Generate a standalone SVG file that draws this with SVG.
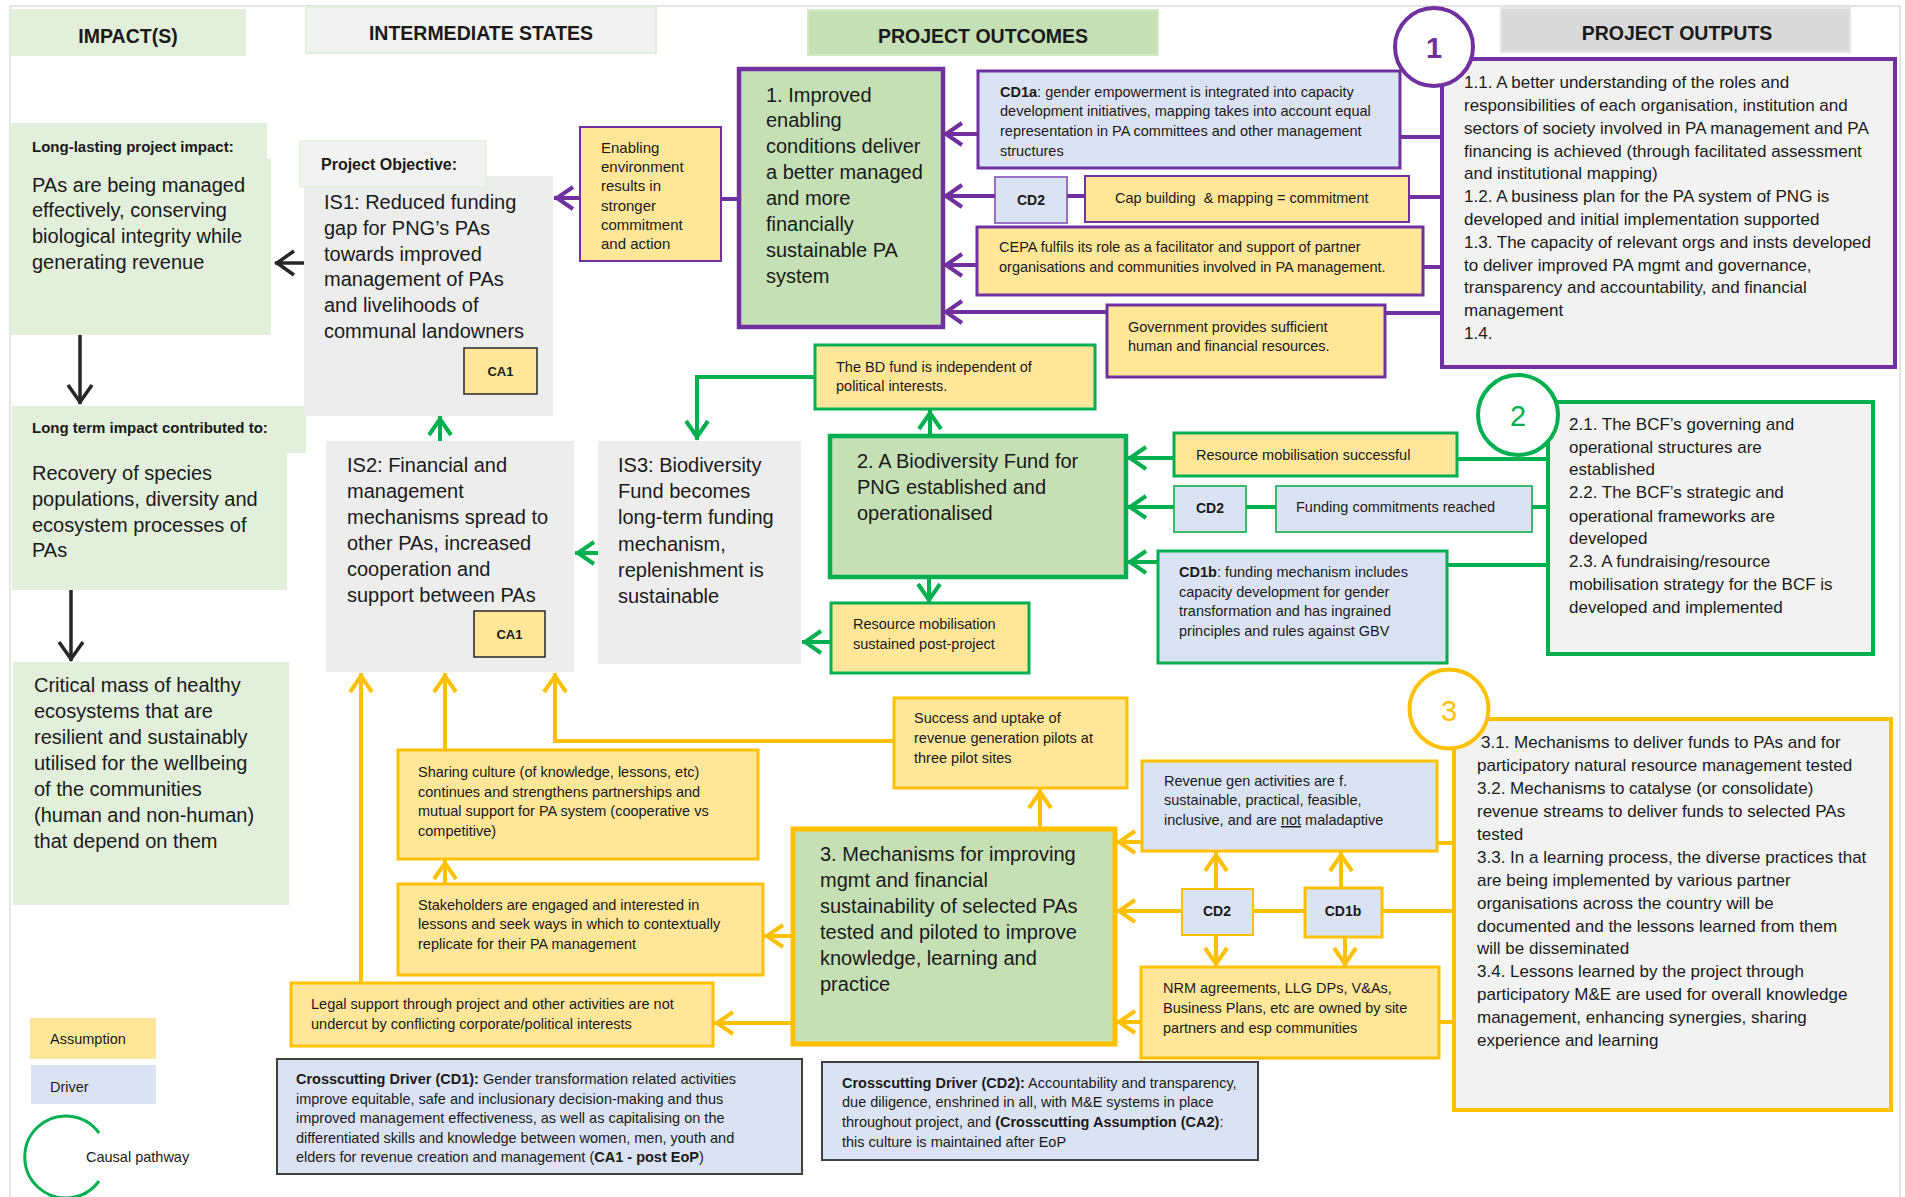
<svg xmlns="http://www.w3.org/2000/svg" width="1905" height="1197" viewBox="0 0 1905 1197">
<style>
.t{font-family:"Liberation Sans",Arial,sans-serif;fill:#1a1a1a}
.s{font-size:14.5px}
.m{font-size:17px}
.l{font-size:20px}
.h{font-size:19.5px;font-weight:bold;text-anchor:middle}
.b{font-weight:bold}
.c{text-anchor:middle}
.asm{fill:#FFE699}
.drv{fill:#DAE3F3}
.out{fill:#C5E0B4}
.is{fill:#EDEDED}
.op{fill:#F2F2F2}
.imp{fill:#E2EFDA}
.P{stroke:#7030A0}
.G{stroke:#00B050}
.Y{stroke:#FFC000}
.cn{fill:none;stroke-width:4}
.cnP{stroke:#7030A0}
.cnG{stroke:#00B050}
.cnY{stroke:#FFC000}
.cnK{stroke:#262626;stroke-width:3.5}
</style>
<defs>
<marker id="aP" markerUnits="userSpaceOnUse" markerWidth="32" markerHeight="30" viewBox="0 0 32 30" refX="28" refY="15" orient="auto"><path d="M9,4 L25,15 L9,26" fill="none" stroke="#7030A0" stroke-width="4"/></marker>
<marker id="aG" markerUnits="userSpaceOnUse" markerWidth="32" markerHeight="30" viewBox="0 0 32 30" refX="28" refY="15" orient="auto"><path d="M9,4 L25,15 L9,26" fill="none" stroke="#00B050" stroke-width="4"/></marker>
<marker id="aY" markerUnits="userSpaceOnUse" markerWidth="32" markerHeight="30" viewBox="0 0 32 30" refX="28" refY="15" orient="auto"><path d="M9,4 L25,15 L9,26" fill="none" stroke="#FFC000" stroke-width="4"/></marker>
<marker id="aK" markerUnits="userSpaceOnUse" markerWidth="32" markerHeight="30" viewBox="0 0 32 30" refX="27" refY="15" orient="auto"><path d="M8,3 L25,15 L8,27" fill="none" stroke="#262626" stroke-width="3.5"/></marker>
</defs>
<rect width="1905" height="1197" fill="#ffffff"/>
<path d="M10,1197 V6 H1900 V1197" fill="none" stroke="#DCDCDC" stroke-width="1.5"/>

<g id="headers">
<rect x="11" y="9" width="235" height="47" class="imp"/>
<text x="128" y="43" class="t h">IMPACT(S)</text>
<rect x="306" y="7" width="350" height="46" class="op" stroke="#E2EFDA" stroke-width="2"/>
<text x="481" y="40" class="t h">INTERMEDIATE STATES</text>
<rect x="808" y="10" width="350" height="45" class="out" stroke="#D5E8C8" stroke-width="2"/>
<text x="983" y="43" class="t h">PROJECT OUTCOMES</text>
<rect x="1501" y="8" width="349" height="44" fill="#D9D9D9" stroke="#E6E6E6" stroke-width="2"/>
<text x="1677" y="40" class="t h">PROJECT OUTPUTS</text>
</g>

<g id="impact-long-lasting">
<rect x="11" y="123" width="256" height="40" class="imp"/>
<rect x="11" y="159" width="260" height="176" class="imp"/>
<text x="32" y="152" class="t b" style="font-size:15px">Long-lasting project impact:</text>
<text class="t l"><tspan x="32" y="192">PAs are being managed</tspan><tspan x="32" y="217">effectively, conserving</tspan><tspan x="32" y="243">biological integrity while</tspan><tspan x="32" y="269">generating revenue</tspan></text>
</g>

<g id="impact-long-term">
<rect x="12" y="406" width="294" height="47" class="imp"/>
<rect x="12" y="453" width="275" height="137" class="imp"/>
<text x="32" y="433" class="t b" style="font-size:15px">Long term impact contributed to:</text>
<text class="t l"><tspan x="32" y="480">Recovery of species</tspan><tspan x="32" y="506">populations, diversity and</tspan><tspan x="32" y="532">ecosystem processes of</tspan><tspan x="32" y="557">PAs</tspan></text>
</g>

<g id="impact-critical-mass">
<rect x="13" y="662" width="276" height="243" class="imp"/>
<text class="t l"><tspan x="34" y="692">Critical mass of healthy</tspan><tspan x="34" y="718">ecosystems that are</tspan><tspan x="34" y="744">resilient and sustainably</tspan><tspan x="34" y="770">utilised for the wellbeing</tspan><tspan x="34" y="796">of the communities</tspan><tspan x="34" y="822">(human and non-human)</tspan><tspan x="34" y="848">that depend on them</tspan></text>
</g>

<g id="is1">
<rect x="304" y="176" width="249" height="240" class="is"/>
<rect x="300" y="141" width="186" height="46" fill="#F2F2F2" stroke="#E2EFDA" stroke-width="1.5"/>
<text x="321" y="170" class="t b" style="font-size:16px">Project Objective:</text>
<text class="t l"><tspan x="324" y="209">IS1: Reduced funding</tspan><tspan x="324" y="235">gap for PNG’s PAs</tspan><tspan x="324" y="261">towards improved</tspan><tspan x="324" y="286">management of PAs</tspan><tspan x="324" y="312">and livelihoods of</tspan><tspan x="324" y="338">communal landowners</tspan></text>
<rect x="464" y="348" width="73" height="46" class="asm" stroke="#262626" stroke-width="1.5"/>
<text x="500.5" y="376" class="t b c" style="font-size:13px">CA1</text>
</g>

<g id="is2">
<rect x="326" y="441" width="248" height="231" class="is"/>
<text class="t l"><tspan x="347" y="472">IS2: Financial and</tspan><tspan x="347" y="498">management</tspan><tspan x="347" y="524">mechanisms spread to</tspan><tspan x="347" y="550">other PAs, increased</tspan><tspan x="347" y="576">cooperation and</tspan><tspan x="347" y="602">support between PAs</tspan></text>
<rect x="474" y="611" width="71" height="46" class="asm" stroke="#262626" stroke-width="1.5"/>
<text x="509.5" y="639" class="t b c" style="font-size:13px">CA1</text>
</g>

<g id="is3">
<rect x="598" y="441" width="203" height="223" class="is"/>
<text class="t l"><tspan x="618" y="472">IS3: Biodiversity</tspan><tspan x="618" y="498">Fund becomes</tspan><tspan x="618" y="524">long-term funding</tspan><tspan x="618" y="551">mechanism,</tspan><tspan x="618" y="577">replenishment is</tspan><tspan x="618" y="603">sustainable</tspan></text>
</g>

<g id="enabling-environment">
<rect x="580" y="127" width="141" height="134" class="asm P" stroke-width="2"/>
<text class="t" style="font-size:15px"><tspan x="601" y="153">Enabling</tspan><tspan x="601" y="172">environment</tspan><tspan x="601" y="191">results in</tspan><tspan x="601" y="211">stronger</tspan><tspan x="601" y="230">commitment</tspan><tspan x="601" y="249">and action</tspan></text>
</g>

<g id="outcome1">
<rect x="739" y="69" width="204" height="258" class="out P" stroke-width="4.5"/>
<text class="t l"><tspan x="766" y="102">1. Improved</tspan><tspan x="766" y="127">enabling</tspan><tspan x="766" y="153">conditions deliver</tspan><tspan x="766" y="179">a better managed</tspan><tspan x="766" y="205">and more</tspan><tspan x="766" y="231">financially</tspan><tspan x="766" y="257">sustainable PA</tspan><tspan x="766" y="283">system</tspan></text>
</g>

<g id="cd1a">
<rect x="978" y="71" width="422" height="97" class="drv P" stroke-width="3"/>
<text class="t s"><tspan x="1000" y="97"><tspan class="b">CD1a</tspan>: gender empowerment is integrated into capacity</tspan><tspan x="1000" y="116">development initiatives, mapping takes into account equal</tspan><tspan x="1000" y="136">representation in PA committees and other management</tspan><tspan x="1000" y="156">structures</tspan></text>
</g>

<g id="cd2-outcome1">
<rect x="995" y="177" width="72" height="46" class="drv" stroke="#9A6FC4" stroke-width="2"/>
<text x="1031" y="205" class="t b c" style="font-size:14px">CD2</text>
</g>

<g id="cap-building">
<rect x="1085" y="176" width="324" height="46" class="asm P" stroke-width="2"/>
<text x="1115" y="203" class="t s" xml:space="preserve">Cap building  &amp; mapping = commitment</text>
</g>

<g id="cepa">
<rect x="977" y="227" width="446" height="68" class="asm P" stroke-width="3"/>
<text class="t s"><tspan x="999" y="252">CEPA fulfils its role as a facilitator and support of partner</tspan><tspan x="999" y="272">organisations and communities involved in PA management.</tspan></text>
</g>

<g id="government">
<rect x="1107" y="305" width="278" height="72" class="asm P" stroke-width="3"/>
<text class="t s"><tspan x="1128" y="332">Government provides sufficient</tspan><tspan x="1128" y="351">human and financial resources.</tspan></text>
</g>

<g id="output1">
<rect x="1442" y="59" width="453" height="308" class="op P" stroke-width="4"/>
<text class="t m"><tspan x="1464" y="88">1.1. A better understanding of the roles and</tspan><tspan x="1464" y="111">responsibilities of each organisation, institution and</tspan><tspan x="1464" y="134">sectors of society involved in PA management and PA</tspan><tspan x="1464" y="157">financing is achieved (through facilitated assessment</tspan><tspan x="1464" y="179">and institutional mapping)</tspan><tspan x="1464" y="202">1.2. A business plan for the PA system of PNG is</tspan><tspan x="1464" y="225">developed and initial implementation supported</tspan><tspan x="1464" y="248">1.3. The capacity of relevant orgs and insts developed</tspan><tspan x="1464" y="271">to deliver improved PA mgmt and governance,</tspan><tspan x="1464" y="293">transparency and accountability, and financial</tspan><tspan x="1464" y="316">management</tspan><tspan x="1464" y="339">1.4.</tspan></text>
<circle cx="1434" cy="47" r="39" fill="#ffffff" class="P" stroke-width="4"/>
<text x="1434" y="58" class="t b c" style="font-size:29px;fill:#7030A0">1</text>
</g>

<g id="bd-fund-independent">
<rect x="815" y="345" width="280" height="64" class="asm G" stroke-width="3"/>
<text class="t s"><tspan x="836" y="372">The BD fund is independent of</tspan><tspan x="836" y="391">political interests.</tspan></text>
</g>

<g id="outcome2">
<rect x="830" y="436" width="296" height="141" class="out G" stroke-width="4.5"/>
<text class="t l"><tspan x="857" y="468">2. A Biodiversity Fund for</tspan><tspan x="857" y="494">PNG established and</tspan><tspan x="857" y="520">operationalised</tspan></text>
</g>

<g id="resource-mob-sustained">
<rect x="831" y="603" width="198" height="70" class="asm G" stroke-width="3"/>
<text class="t s"><tspan x="853" y="629">Resource mobilisation</tspan><tspan x="853" y="649">sustained post-project</tspan></text>
</g>

<g id="resource-mob-successful">
<rect x="1174" y="433" width="283" height="43" class="asm G" stroke-width="3"/>
<text x="1196" y="460" class="t s">Resource mobilisation successful</text>
</g>

<g id="cd2-outcome2">
<rect x="1174" y="486" width="72" height="46" class="drv" stroke="#3CB96A" stroke-width="2"/>
<text x="1210" y="513" class="t b c" style="font-size:14px">CD2</text>
</g>

<g id="funding-commitments">
<rect x="1276" y="486" width="256" height="46" class="drv" stroke="#3CB96A" stroke-width="2"/>
<text x="1296" y="512" class="t s">Funding commitments reached</text>
</g>

<g id="cd1b-outcome2">
<rect x="1158" y="551" width="289" height="112" class="drv G" stroke-width="3"/>
<text class="t s"><tspan x="1179" y="577"><tspan class="b">CD1b</tspan>: funding mechanism includes</tspan><tspan x="1179" y="597">capacity development for gender</tspan><tspan x="1179" y="616">transformation and has ingrained</tspan><tspan x="1179" y="636">principles and rules against GBV</tspan></text>
</g>

<g id="output2">
<rect x="1548" y="402" width="325" height="252" class="op G" stroke-width="4"/>
<text class="t m"><tspan x="1569" y="430">2.1. The BCF’s governing and</tspan><tspan x="1569" y="453">operational structures are</tspan><tspan x="1569" y="475">established</tspan><tspan x="1569" y="498">2.2. The BCF’s strategic and</tspan><tspan x="1569" y="522">operational frameworks are</tspan><tspan x="1569" y="544">developed</tspan><tspan x="1569" y="567">2.3. A fundraising/resource</tspan><tspan x="1569" y="590">mobilisation strategy for the BCF is</tspan><tspan x="1569" y="613">developed and implemented</tspan></text>
<circle cx="1518" cy="415" r="40" fill="#ffffff" class="G" stroke-width="4"/>
<text x="1518" y="426" class="t c" style="font-size:29px;fill:#00B050">2</text>
</g>

<g id="success-uptake">
<rect x="894" y="698" width="233" height="90" class="asm Y" stroke-width="3"/>
<text class="t s"><tspan x="914" y="723">Success and uptake of</tspan><tspan x="914" y="743">revenue generation pilots at</tspan><tspan x="914" y="763">three pilot sites</tspan></text>
</g>

<g id="outcome3">
<rect x="793" y="829" width="322" height="215" class="out Y" stroke-width="5"/>
<text class="t l"><tspan x="820" y="861">3. Mechanisms for improving</tspan><tspan x="820" y="887">mgmt and financial</tspan><tspan x="820" y="913">sustainability of selected PAs</tspan><tspan x="820" y="939">tested and piloted to improve</tspan><tspan x="820" y="965">knowledge, learning and</tspan><tspan x="820" y="991">practice</tspan></text>
</g>

<g id="revenue-gen">
<rect x="1142" y="761" width="295" height="90" class="drv Y" stroke-width="3"/>
<text class="t s"><tspan x="1164" y="786">Revenue gen activities are f.</tspan><tspan x="1164" y="805">sustainable, practical, feasible,</tspan><tspan x="1164" y="825">inclusive, and are <tspan text-decoration="underline">not</tspan> maladaptive</tspan></text>
</g>

<g id="cd2-outcome3">
<rect x="1182" y="889" width="71" height="46" class="drv Y" stroke-width="2"/>
<text x="1217" y="916" class="t b c" style="font-size:14px">CD2</text>
</g>

<g id="cd1b-outcome3">
<rect x="1305" y="888" width="77" height="49" class="drv Y" stroke-width="3"/>
<text x="1343" y="916" class="t b c" style="font-size:14px">CD1b</text>
</g>

<g id="nrm-agreements">
<rect x="1141" y="967" width="298" height="91" class="asm Y" stroke-width="3"/>
<text class="t s"><tspan x="1163" y="993">NRM agreements, LLG DPs, V&amp;As,</tspan><tspan x="1163" y="1013">Business Plans, etc are owned by site</tspan><tspan x="1163" y="1033">partners and esp communities</tspan></text>
</g>

<g id="output3">
<rect x="1454" y="719" width="437" height="391" class="op Y" stroke-width="4"/>
<text class="t m"><tspan x="1481" y="748">3.1. Mechanisms to deliver funds to PAs and for</tspan><tspan x="1477" y="771">participatory natural resource management tested</tspan><tspan x="1477" y="794">3.2. Mechanisms to catalyse (or consolidate)</tspan><tspan x="1477" y="817">revenue streams to deliver funds to selected PAs</tspan><tspan x="1477" y="840">tested</tspan><tspan x="1477" y="863">3.3. In a learning process, the diverse practices that</tspan><tspan x="1477" y="886">are being implemented by various partner</tspan><tspan x="1477" y="909">organisations across the country will be</tspan><tspan x="1477" y="932">documented and the lessons learned from them</tspan><tspan x="1477" y="954">will be disseminated</tspan><tspan x="1477" y="977">3.4. Lessons learned by the project through</tspan><tspan x="1477" y="1000">participatory M&amp;E are used for overall knowledge</tspan><tspan x="1477" y="1023">management, enhancing synergies, sharing</tspan><tspan x="1477" y="1046">experience and learning</tspan></text>
<circle cx="1449" cy="709" r="39.5" fill="#ffffff" class="Y" stroke-width="4"/>
<text x="1449" y="721" class="t c" style="font-size:29px;fill:#FFC000">3</text>
</g>

<g id="sharing-culture">
<rect x="398" y="750" width="360" height="109" class="asm Y" stroke-width="3"/>
<text class="t s"><tspan x="418" y="777">Sharing culture (of knowledge, lessons, etc)</tspan><tspan x="418" y="797">continues and strengthens partnerships and</tspan><tspan x="418" y="816">mutual support for PA system (cooperative vs</tspan><tspan x="418" y="836">competitive)</tspan></text>
</g>

<g id="stakeholders">
<rect x="398" y="884" width="365" height="91" class="asm Y" stroke-width="3"/>
<text class="t s"><tspan x="418" y="910">Stakeholders are engaged and interested in</tspan><tspan x="418" y="929">lessons and seek ways in which to contextually</tspan><tspan x="418" y="949">replicate for their PA management</tspan></text>
</g>

<g id="legal-support">
<rect x="291" y="983" width="422" height="63" class="asm Y" stroke-width="3"/>
<text class="t s"><tspan x="311" y="1009">Legal support through project and other activities are not</tspan><tspan x="311" y="1029">undercut by conflicting corporate/political interests</tspan></text>
</g>

<g id="crosscutting-cd1">
<rect x="277" y="1059" width="525" height="115" class="drv" stroke="#404040" stroke-width="2"/>
<text class="t s"><tspan x="296" y="1084"><tspan class="b">Crosscutting Driver (CD1):</tspan> Gender transformation related activities</tspan><tspan x="296" y="1104">improve equitable, safe and inclusionary decision-making and thus</tspan><tspan x="296" y="1123">improved management effectiveness, as well as capitalising on the</tspan><tspan x="296" y="1143">differentiated skills and knowledge between women, men, youth and</tspan><tspan x="296" y="1162">elders for revenue creation and management (<tspan class="b">CA1 - post EoP</tspan>)</tspan></text>
</g>

<g id="crosscutting-cd2">
<rect x="822" y="1062" width="436" height="98" class="drv" stroke="#404040" stroke-width="2"/>
<text class="t s"><tspan x="842" y="1088"><tspan class="b">Crosscutting Driver (CD2):</tspan> Accountability and transparency,</tspan><tspan x="842" y="1107">due diligence, enshrined in all, with M&amp;E systems in place</tspan><tspan x="842" y="1127">throughout project, and <tspan class="b">(Crosscutting Assumption (CA2)</tspan>:</tspan><tspan x="842" y="1147">this culture is maintained after EoP</tspan></text>
</g>

<g id="legend">
<rect x="31" y="1019" width="124" height="39" class="asm" stroke="#FFE08A" stroke-width="1.5"/>
<text x="50" y="1044" class="t s">Assumption</text>
<rect x="31" y="1065" width="125" height="39" class="drv"/>
<text x="50" y="1092" class="t s">Driver</text>
<path d="M99,1133 A41,41 0 1 0 99,1181" fill="none" stroke="#00B050" stroke-width="3"/>
<text x="86" y="1162" class="t s">Causal pathway</text>
</g>

<g id="connectors">
<path d="M80,335 V404" class="cn cnK" marker-end="url(#aK)"/>
<path d="M71,590 V661" class="cn cnK" marker-end="url(#aK)"/>
<path d="M304,263 H275" class="cn cnK" marker-end="url(#aK)"/>

<path d="M580,198 H554" class="cn cnP" marker-end="url(#aP)"/>
<path d="M739,199 H721" class="cn cnP"/>
<path d="M978,134 H943" class="cn cnP" marker-end="url(#aP)"/>
<path d="M1442,137 H1400" class="cn cnP"/>
<path d="M995,196 H943" class="cn cnP" marker-end="url(#aP)"/>
<path d="M1085,196 H1067" class="cn cnP"/>
<path d="M1442,197 H1409" class="cn cnP"/>
<path d="M977,265 H943" class="cn cnP" marker-end="url(#aP)"/>
<path d="M1442,267 H1423" class="cn cnP"/>
<path d="M1107,312 H943" class="cn cnP" marker-end="url(#aP)"/>
<path d="M1442,313 H1385" class="cn cnP"/>

<path d="M930,436 V410" class="cn cnG" marker-end="url(#aG)"/>
<path d="M815,377 H697 V440" class="cn cnG" marker-end="url(#aG)"/>
<path d="M440,441 V416" class="cn cnG" marker-end="url(#aG)"/>
<path d="M598,553 H575" class="cn cnG" marker-end="url(#aG)"/>
<path d="M929,577 V603" class="cn cnG" marker-end="url(#aG)"/>
<path d="M831,642 H802" class="cn cnG" marker-end="url(#aG)"/>
<path d="M1174,458 H1127" class="cn cnG" marker-end="url(#aG)"/>
<path d="M1548,459 H1457" class="cn cnG"/>
<path d="M1174,507 H1127" class="cn cnG" marker-end="url(#aG)"/>
<path d="M1276,507 H1246" class="cn cnG"/>
<path d="M1548,507 H1532" class="cn cnG"/>
<path d="M1158,562 H1127" class="cn cnG" marker-end="url(#aG)"/>
<path d="M1548,565 H1447" class="cn cnG"/>

<path d="M361,983 V673" class="cn cnY" marker-end="url(#aY)"/>
<path d="M445,750 V673" class="cn cnY" marker-end="url(#aY)"/>
<path d="M894,741 H555 V673" class="cn cnY" marker-end="url(#aY)"/>
<path d="M445,884 V860" class="cn cnY" marker-end="url(#aY)"/>
<path d="M1040,829 V789" class="cn cnY" marker-end="url(#aY)"/>
<path d="M793,936 H764" class="cn cnY" marker-end="url(#aY)"/>
<path d="M793,1023 H714" class="cn cnY" marker-end="url(#aY)"/>
<path d="M1142,842 H1116" class="cn cnY" marker-end="url(#aY)"/>
<path d="M1454,843 H1437" class="cn cnY"/>
<path d="M1182,911 H1116" class="cn cnY" marker-end="url(#aY)"/>
<path d="M1305,911 H1253" class="cn cnY"/>
<path d="M1454,911 H1382" class="cn cnY"/>
<path d="M1216,889 V852" class="cn cnY" marker-end="url(#aY)"/>
<path d="M1341,888 V852" class="cn cnY" marker-end="url(#aY)"/>
<path d="M1216,935 V967" class="cn cnY" marker-end="url(#aY)"/>
<path d="M1345,937 V967" class="cn cnY" marker-end="url(#aY)"/>
<path d="M1141,1022 H1116" class="cn cnY" marker-end="url(#aY)"/>
<path d="M1454,1022 H1439" class="cn cnY"/>
</g>
</svg>
